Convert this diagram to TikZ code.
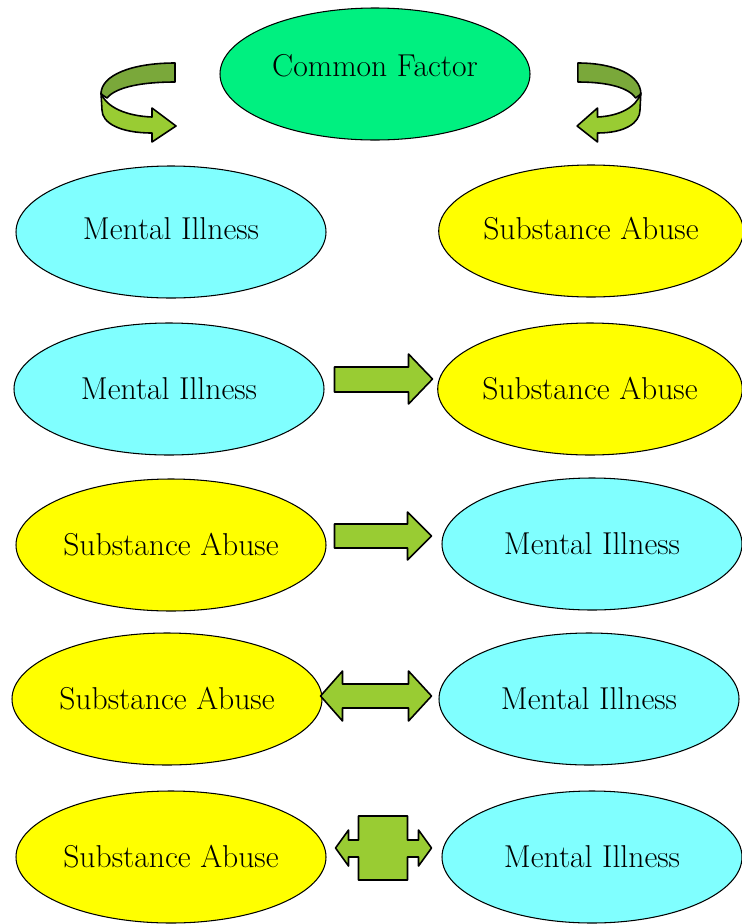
\documentclass[tikz,border=0pt]{standalone}
\usepackage{tikz}
\usetikzlibrary{shapes.geometric,calc}
\definecolor{aqua}{HTML}{80FFFF}
\definecolor{lemon}{HTML}{FFFF00}
\definecolor{spring}{HTML}{00F080}
\definecolor{leaf}{HTML}{99CC33}
\definecolor{moss}{HTML}{7AA83A}

\begin{document}
\begin{tikzpicture}[
  x=0.02cm, y=-0.02cm,
  line join=round,
  every node/.style={
    font=\fontsize{18}{21}\selectfont,
  },
  oval/.style={
    ellipse,
    draw=black,
    line width=0.6pt,
    inner sep=0pt,
    minimum width=310*0.02cm,
    minimum height=132*0.02cm,
  },
  illbox/.style={oval, fill=aqua},
  subbox/.style={oval, fill=lemon},
  facbox/.style={oval, fill=spring},
  blockarr/.style={
    draw=black,
    fill=leaf,
    line width=0.9pt,
  },
  curl/.pic={
    \draw[blockarr, fill=moss] (73,0) -- (73,19)
      .. controls (40,19) and (14,24) .. (5,35) -- (-1,31)
      .. controls (-1,12) and (30,0) .. (73,0) -- cycle;
    \draw[blockarr] (-1,30) .. controls (4,44) and (24,53) .. (50,54)
      -- (50,45) -- (74,63) -- (50,79) -- (50,70)
      .. controls (18,70) and (0,60) .. (0,47) -- cycle;
  },
]
\useasboundingbox (0,0) rectangle (742,924);

% --- nodes ---
\node[facbox, text depth=0.34cm] (cf) at (375,74) {Common Factor};

\node[illbox, text depth=0.12cm] (mi1) at (171,232) {Mental Illness};
\node[subbox, minimum width=300*0.02cm, text depth=0.12cm] (sa1) at (591,231) {Substance Abuse};

\node[illbox] (mi2) at (169,389) {Mental Illness};
\node[subbox, minimum width=300*0.02cm] (sa2) at (590,389) {Substance Abuse};

\node[subbox] (sa3) at (171,545) {Substance Abuse};
\node[illbox, minimum width=300*0.02cm] (mi3) at (592,544) {Mental Illness};

\node[subbox] (sa4) at (167,699) {Substance Abuse};
\node[illbox, minimum width=300*0.02cm] (mi4) at (589,699) {Mental Illness};

\node[subbox] (sa5) at (171,857) {Substance Abuse};
\node[illbox, minimum width=300*0.02cm] (mi5) at (592,857) {Mental Illness};

% --- curled arrows from the common factor ---
\pic at (102,63) {curl};
\pic[xscale=-0.85] at (640,63) {curl};

% --- block arrows ---
\draw[blockarr] ($(mi2.east)+(10,-22)$) -- ++(74,0) -- ++(0,-13)
  -- ++(24,25) -- ++(-24,25) -- ++(0,-12) -- ++(-74,0) -- cycle;

\draw[blockarr] ($(sa3.east)+(8,-21)$) -- ++(73,0) -- ++(0,-12)
  -- ++(24,24) -- ++(-24,24) -- ++(0,-12) -- ++(-73,0) -- cycle;

\draw[blockarr] ($(sa4.east)+(-2,-3)$) -- ++(22,-25) -- ++(0,13)
  -- ++(66,0) -- ++(0,-13) -- ++(23,25) -- ++(-23,25) -- ++(0,-13)
  -- ++(-66,0) -- ++(0,13) -- cycle;

\draw[blockarr] ($(sa5.east)+(9,-9)$) -- ++(13,-18) -- ++(0,10)
  -- ++(10,0) -- ++(0,-24) -- ++(49,0) -- ++(0,24) -- ++(11,0)
  -- ++(0,-10) -- ++(13,18) -- ++(-13,18) -- ++(0,-9) -- ++(-11,0)
  -- ++(0,23) -- ++(-49,0) -- ++(0,-23) -- ++(-10,0) -- ++(0,9) -- cycle;

\end{tikzpicture}
\end{document}
